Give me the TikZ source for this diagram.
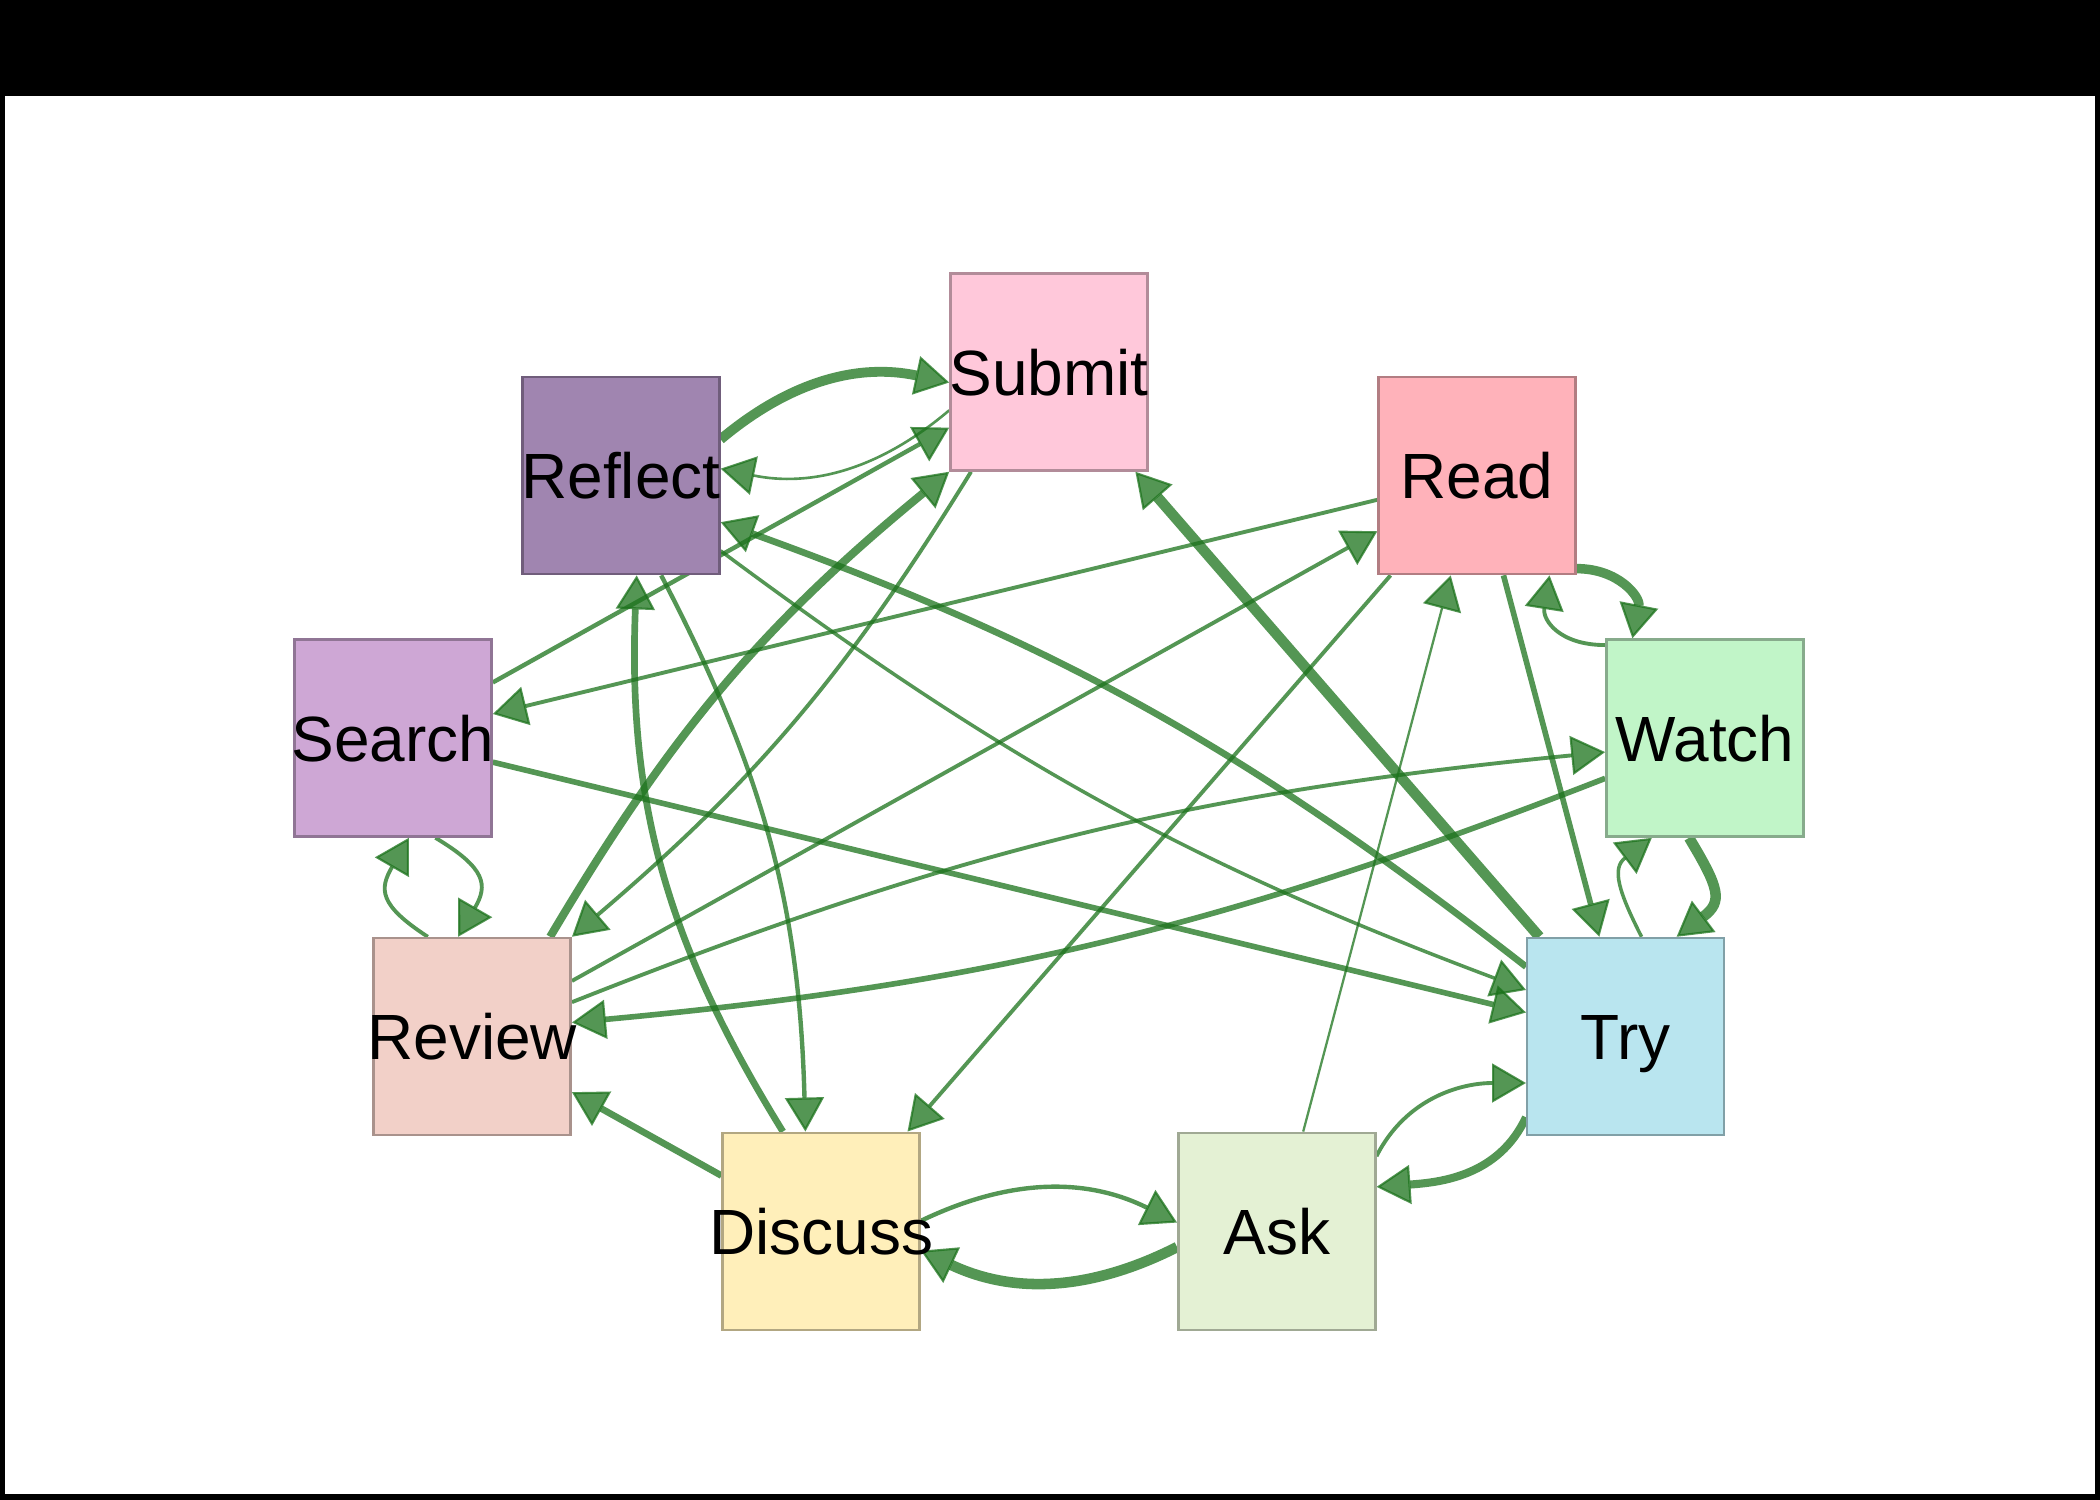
\documentclass[tikz,border=0pt]{standalone}
\usepackage{fontspec}
\setmainfont{Liberation Sans}
\usepackage{tikz}
\usetikzlibrary{arrows.meta,backgrounds}
\usepackage{xcolor}

\definecolor{submitcol}{RGB}{255,200,218}
\definecolor{reflectcol}{RGB}{160,133,176}
\definecolor{readcol}{RGB}{255,178,186}
\definecolor{searchcol}{RGB}{206,167,213}
\definecolor{watchcol}{RGB}{193,245,200}
\definecolor{reviewcol}{RGB}{242,208,200}
\definecolor{trycol}{RGB}{185,229,239}
\definecolor{discusscol}{RGB}{255,239,186}
\definecolor{askcol}{RGB}{228,241,212}
\definecolor{edgecol}{RGB}{28,115,28}

\pgfdeclarelayer{frame}
\pgfsetlayers{frame,background,main}

\newcommand{\boxtext}[1]{\makebox[0pt]{#1}}

\begin{document}
\begin{tikzpicture}[
    box/.style={
        rectangle,
        fill=#1,
        draw=#1!70!black,
        line width=0.7pt,
        minimum width=1.97cm,
        minimum height=1.97cm,
        inner sep=0pt,
        text height=0.46cm,
        text depth=0pt,
        font=\fontsize{18.2}{20}\selectfont
    },
    arrow/.style={
        -{Triangle[length=3.4mm,width=3.9mm,line width=0.6pt]},
        draw=edgecol,
        opacity=0.75
    }
]

    \useasboundingbox (-10.49,-6.85) rectangle (10.51,8.15);

    % Frame
    \begin{pgfonlayer}{frame}
        \fill[black] (-10.49,-6.85) rectangle (10.51,8.15);
        \fill[white] (-10.44,-6.79) rectangle (10.46,7.19);
    \end{pgfonlayer}

    % Nodes
    \node (submit)  [box=submitcol]  at (90:6.66cm and 4.43cm)  {\boxtext{Submit}};
    \node (reflect) [box=reflectcol] at (130:6.66cm and 4.43cm) {\boxtext{Reflect}};
    \node (search)  [box=searchcol]  at (170:6.66cm and 4.43cm) {\boxtext{Search}};
    \node (review)  [box=reviewcol]  at (210:6.66cm and 4.43cm) {\boxtext{Review}};
    \node (discuss) [box=discusscol] at (250:6.66cm and 4.43cm) {\boxtext{Discuss}};
    \node (ask)     [box=askcol]     at (290:6.66cm and 4.43cm) {\boxtext{Ask}};
    \node (try)     [box=trycol]     at (330:6.66cm and 4.43cm) {\boxtext{Try}};
    \node (watch)   [box=watchcol]   at (10:6.66cm and 4.43cm)  {\boxtext{Watch}};
    \node (read)    [box=readcol]    at (50:6.66cm and 4.43cm)  {\boxtext{Read}};

    \begin{scope}[on background layer]
        % Arrows, one way
        \draw [arrow, line width=1.25pt] (search)  -- (submit);
        \draw [arrow, line width=3pt]    (try)     -- (submit);
        \draw [arrow, line width=1.6pt]  (read)    -- (try);
        \draw [arrow, line width=0.65pt] (ask)     -- (read);
        \draw [arrow, line width=1.1pt]  (read)    -- (discuss);
        \draw [arrow, line width=1.9pt]  (discuss) -- (review);
        \draw [arrow, line width=1.1pt]  (review)  -- (read);
        \draw [arrow, line width=1.1pt]  (read)    -- (search);
        \draw [arrow, line width=1.6pt]  (search)  -- (try);

        % Arrows, both ways
        \draw [arrow, line width=2.8pt]  (reflect.20)  to[bend left=26]  (submit.186);
        \draw [arrow, line width=0.75pt] (submit.201)  to[bend left=26]  (reflect.4);
        \draw [arrow, line width=2.3pt]  (review.52)   to[bend left=10]  (submit.225);
        \draw [arrow, line width=1.1pt]  (submit.232)  to[bend left=9]   (review.45);
        \draw [arrow, line width=1.9pt]  (try.145)     to[bend right=9]  (reflect.335);
        \draw [arrow, line width=1pt]    (reflect.323) to[bend right=8]  (try.155);
        \draw [arrow, line width=1pt]    (try.81)      to[out=117, in=217, looseness=1.3] (watch.242);
        \draw [arrow, line width=3pt]    (watch.261)   to[out=-59, in=37, looseness=1.5]  (try.63);
        \draw [arrow, line width=2.3pt]  (try.219)     to[out=245, in=4]   (ask.24);
        \draw [arrow, line width=1.1pt]  (ask.37)      to[out=63, in=180]  (try.205);
        \draw [arrow, line width=1.25pt] (discuss.6)   to[bend left=26]  (ask.175);
        \draw [arrow, line width=3pt]    (ask.189)     to[bend left=26]  (discuss.349);
        \draw [arrow, line width=1.9pt]  (discuss.111) to[bend left=17]  (reflect.279);
        \draw [arrow, line width=1.25pt] (reflect.292) to[bend left=13]  (discuss.99);
        \draw [arrow, line width=1.1pt]  (search.293)  to[out=-31, in=60, looseness=1.5]   (review.98);
        \draw [arrow, line width=1.1pt]  (review.114)  to[out=147, in=240, looseness=1.5]  (search.279);
        \draw [arrow, line width=1.1pt]  (review.19)   to[bend left=8]   (watch.188);
        \draw [arrow, line width=1.6pt]  (watch.202)   to[bend left=8]   (review.8);
        \draw [arrow, line width=2.7pt]  (read.317)    to[out=0, in=79, looseness=1.2]    (watch.126);
        \draw [arrow, line width=1.1pt]  (watch.137)   to[out=180, in=261, looseness=1.3] (read.306);
    \end{scope}

\end{tikzpicture}
\end{document}
